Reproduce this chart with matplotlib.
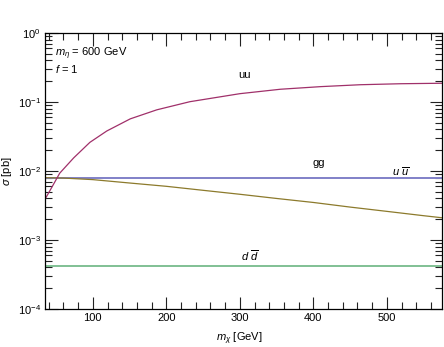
import numpy as np
import matplotlib
matplotlib.use('Agg')
import matplotlib.pyplot as plt
from matplotlib.ticker import LogLocator, MultipleLocator, NullFormatter

plt.rcParams['font.family'] = ['Liberation Sans', 'DejaVu Sans']
plt.rcParams['mathtext.fontset'] = 'custom'
plt.rcParams['mathtext.it'] = 'Liberation Sans:italic'
plt.rcParams['mathtext.rm'] = 'Liberation Sans'

# dark matter mass [GeV] and cross sections [pb]
m_uu = [35, 45, 55, 74, 96, 119, 151, 187, 232, 300, 355, 410, 464, 519, 575]
sig_uu = [3.9e-3, 6.0e-3, 9.3e-3, 0.0155, 0.026, 0.038, 0.057, 0.077, 0.101,
          0.132, 0.153, 0.167, 0.178, 0.184, 0.187]

m_uubar = [35, 60, 100, 150, 200, 250, 300, 350, 400, 450, 500, 550, 575]
sig_uubar = [8.0e-3, 7.9e-3, 7.5e-3, 6.7e-3, 6.0e-3, 5.25e-3, 4.6e-3, 4.0e-3,
             3.5e-3, 3.0e-3, 2.6e-3, 2.25e-3, 2.1e-3]

m_flat = [35, 575]
sig_gg = [8.0e-3, 8.0e-3]
sig_ddbar = [4.25e-4, 4.25e-4]

fig = plt.figure(figsize=(4.44, 3.47), dpi=100)
ax = fig.add_axes([0.1014, 0.1095, 0.8941, 0.7954])

ax.plot(m_flat, sig_gg, color='#8080c8', lw=1.4)
ax.plot(m_flat, sig_ddbar, color='#80c094', lw=1.4)
ax.plot(m_uubar, sig_uubar, color='#8c7a2c', lw=0.9)
ax.plot(m_uu, sig_uu, color='#a0306a', lw=0.9)

ax.set_yscale('log')
ax.set_xlim(35, 575)
ax.set_ylim(1e-4, 1)

ax.xaxis.set_major_locator(MultipleLocator(100))
ax.xaxis.set_minor_locator(MultipleLocator(20))
ax.yaxis.set_major_locator(LogLocator(base=10, numticks=10))
ax.yaxis.set_minor_locator(LogLocator(base=10, subs=np.arange(2, 10), numticks=20))
ax.yaxis.set_minor_formatter(NullFormatter())
ax.tick_params(which='both', direction='in', top=True, right=True, labelsize=8,
               color='#222222', pad=3)
ax.tick_params(which='major', length=9, width=0.8)
ax.tick_params(which='minor', length=5, width=0.8)
for sp in ax.spines.values():
    sp.set_linewidth(0.9)

ax.set_xlabel(r'$m_\chi$ [GeV]', fontsize=8)
ax.set_ylabel(r'$\sigma$ [pb]', fontsize=8)
ax.xaxis.set_label_coords(0.49, -0.078)
ax.yaxis.set_label_coords(-0.078, 0.5)

ax.text(0.025, 0.955, r'$m_\eta$ = 600 GeV', transform=ax.transAxes, fontsize=8, va='top')
ax.text(0.025, 0.89, r'$f$ = 1', transform=ax.transAxes, fontsize=8, va='top')

ax.text(306, 0.245, 'uu', fontsize=8, ha='center', va='center')
ax.text(408, 0.013, 'gg', fontsize=8, ha='center', va='center')
ax.text(519, 0.0097, r'$u\ \overline{u}$', fontsize=8, ha='center', va='center')
ax.text(314, 5.9e-4, r'$d\ \overline{d}$', fontsize=8, ha='center', va='center')

fig.savefig('out.png', dpi=100)
